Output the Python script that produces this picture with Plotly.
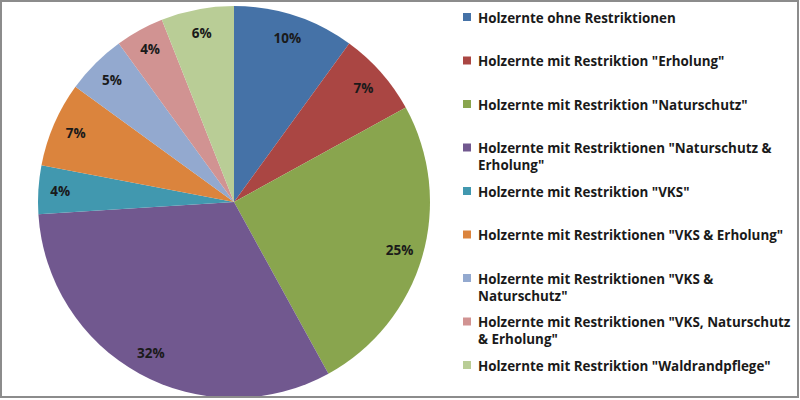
import plotly.graph_objects as go

# ---- data ----
categories = [
    'Holzernte ohne Restriktionen',
    'Holzernte mit Restriktion "Erholung"',
    'Holzernte mit Restriktion "Naturschutz"',
    'Holzernte mit Restriktionen "Naturschutz & Erholung"',
    'Holzernte mit Restriktion "VKS"',
    'Holzernte mit Restriktionen "VKS & Erholung"',
    'Holzernte mit Restriktionen "VKS & Naturschutz"',
    'Holzernte mit Restriktionen "VKS, Naturschutz & Erholung"',
    'Holzernte mit Restriktion "Waldrandpflege"',
]
legend_labels = [
    'Holzernte ohne Restriktionen',
    'Holzernte mit Restriktion "Erholung"',
    'Holzernte mit Restriktion "Naturschutz"',
    'Holzernte mit Restriktionen "Naturschutz &<br>Erholung"',
    'Holzernte mit Restriktion "VKS"',
    'Holzernte mit Restriktionen "VKS & Erholung"',
    'Holzernte mit Restriktionen "VKS &<br>Naturschutz"',
    'Holzernte mit Restriktionen "VKS, Naturschutz<br>& Erholung"',
    'Holzernte mit Restriktion "Waldrandpflege"',
]
shares = [10, 7, 25, 32, 4, 7, 5, 4, 6]
colors = ['#4572A7', '#AA4643', '#89A54E', '#71588F', '#4198AF',
          '#DB843D', '#93A9CF', '#D19392', '#B9CD96']

W, H = 800, 400
FONT = 'Open Sans'

# pie geometry (pixels)
cx, cy, r = 234, 202, 196
dom_x = [(cx - r) / W, (cx + r) / W]
dom_y = [(H - cy - r) / H, (H - cy + r) / H]

fig = go.Figure()
fig.add_trace(go.Pie(
    labels=categories, values=shares, sort=False, direction='clockwise',
    rotation=0, marker=dict(colors=colors, line=dict(width=0)),
    textinfo='none', showlegend=False, domain=dict(x=dom_x, y=dom_y),
    hoverinfo='label+percent',
))
# transparent ring used only to place the percentage labels near the rim
fig.add_trace(go.Pie(
    labels=categories, values=shares, sort=False, direction='clockwise',
    rotation=0, hole=0.76,
    marker=dict(colors=['rgba(0,0,0,0)'] * len(shares), line=dict(width=0)),
    text=[f'{v}%' for v in shares], textinfo='text', textposition='inside',
    insidetextorientation='horizontal',
    insidetextfont=dict(family=FONT, size=13.5, color='#1a1a1a', weight='bold'),
    showlegend=False, domain=dict(x=dom_x, y=dom_y), hoverinfo='skip',
))

# legend drawn as text entries with coloured squares
shapes = []
annotations = []
x_sq0, x_sq1, x_txt = 463, 471, 476
for i, (lab, col) in enumerate(zip(legend_labels, colors)):
    yc = 17 + 43.5 * i
    shapes.append(dict(type='rect', xref='paper', yref='paper',
                       x0=x_sq0 / W, x1=x_sq1 / W,
                       y0=(H - yc - 4) / H, y1=(H - yc + 4) / H,
                       fillcolor=col, line=dict(width=0)))
    annotations.append(dict(
        xref='paper', yref='paper', x=x_txt / W, y=(H - yc + 10.3) / H,
        xanchor='left', yanchor='top', align='left', showarrow=False,
        text=f'<b>{lab}</b>', font=dict(family=FONT, size=13.4, color='#1a1a1a'),
    ))

# outer frame
shapes.append(dict(type='rect', xref='paper', yref='paper',
                   x0=1 / W, x1=798 / W, y0=(H - 397) / H, y1=(H - 1) / H,
                   line=dict(color='#8c8c8c', width=2), fillcolor='rgba(0,0,0,0)'))

fig.update_layout(
    width=W, height=H, margin=dict(l=0, r=0, t=0, b=0),
    paper_bgcolor='white', plot_bgcolor='white',
    shapes=shapes, annotations=annotations, showlegend=False,
)

fig.write_html('out.html', config={'displayModeBar': False},
               post_script="document.body.style.margin='0';document.body.style.overflow='hidden';")
